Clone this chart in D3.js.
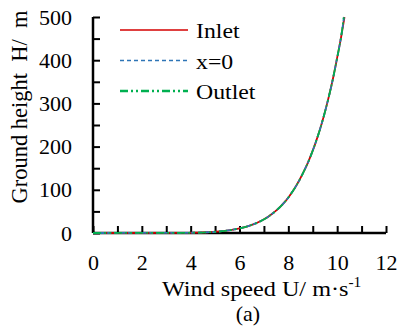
<!DOCTYPE html>
<html><head><meta charset="utf-8">
<script src="https://cdn.jsdelivr.net/npm/d3@7"></script>
<style>body{margin:0;background:#fff}svg{display:block}text{font-family:"Liberation Serif","Times New Roman",serif;fill:#000}</style>
</head><body><svg id="c" width="397" height="331"></svg>
<script>
const heights = [0, 0.5, 1, 2, 5, 10, 20, 30, 50, 75, 100, 150, 200, 250, 300, 350, 400, 450, 500];
const inletU  = [0, 3.92, 4.31, 4.76, 5.40, 5.95, 6.56, 6.95, 7.46, 7.90, 8.22, 8.70, 9.06, 9.35, 9.59, 9.80, 9.98, 10.15, 10.30];
const x0U     = [0, 3.92, 4.31, 4.76, 5.40, 5.95, 6.56, 6.95, 7.46, 7.90, 8.22, 8.70, 9.06, 9.35, 9.59, 9.80, 9.98, 10.15, 10.28];
const outletU = [0, 3.92, 4.31, 4.76, 5.40, 5.95, 6.56, 6.95, 7.46, 7.90, 8.22, 8.70, 9.06, 9.35, 9.59, 9.80, 9.98, 10.15, 10.27];
const seriesNames = ["Inlet", "x=0", "Outlet"];
const xTicks = [0, 2, 4, 6, 8, 10, 12];
const yTicks = [0, 100, 200, 300, 400, 500];

const svg = d3.select("#c");
const x = d3.scaleLinear().domain([0, 12]).range([93, 386]);
const y = d3.scaleLinear().domain([0, 500]).range([233, 17]);
const STRETCH = 1.08;
function stretch(sel) {
  sel.each(function () {
    const w = this.getComputedTextLength();
    d3.select(this).attr("textLength", w * STRETCH).attr("lengthAdjust", "spacingAndGlyphs");
  });
}

const series = [
  {name: seriesNames[0], u: inletU, color: "#d40000", dash: null},
  {name: seriesNames[1], u: x0U, color: "#2e75b6", dash: "4,3"},
  {name: seriesNames[2], u: outletU, color: "#00b050", dash: "8,3,2,3,2,3"}
];

// axes
const xAxis = d3.axisBottom(x).tickValues(d3.range(0, 13, 1)).tickSize(-7).tickPadding(21).tickFormat(d => xTicks.includes(d) ? d : "");
const gx = svg.append("g").attr("transform", "translate(0,233)").call(xAxis);
const yAxis = d3.axisLeft(y).tickValues(d3.range(0, 501, 50)).tickSize(-7).tickPadding(21).tickFormat(d => yTicks.includes(d) ? d : "");
const gy = svg.append("g").attr("transform", "translate(93,0)").call(yAxis);
[gx, gy].forEach(g => {
  g.select(".domain").attr("stroke", "#000").attr("stroke-width", 2.5);
  g.selectAll(".tick line").attr("stroke", "#000").attr("stroke-width", 2);
  g.selectAll(".tick text").attr("font-family", '"Liberation Serif",serif').attr("font-size", 22).attr("fill", "#000");
});
gx.select(".domain").attr("d", "M93,0H386");
gy.select(".domain").attr("d", "M0,233V17");

// curves (drawn above the axes)
const line = d3.line().x(d => x(d[0])).y(d => y(d[1])).curve(d3.curveMonotoneY);
series.forEach(s => {
  svg.append("path").datum(s.u.map((u, i) => [u, heights[i]]))
    .attr("d", line).attr("fill", "none").attr("stroke", s.color)
    .attr("stroke-width", 1.8).attr("stroke-dasharray", s.dash);
});

// legend
const leg = svg.append("g");
series.forEach((s, i) => {
  const ly = 30 + i * 30.5;
  leg.append("line").attr("x1", 120).attr("x2", 188).attr("y1", ly).attr("y2", ly)
    .attr("stroke", s.color).attr("stroke-width", s.name === "Outlet" ? 2.4 : 1.5).attr("stroke-dasharray", s.dash);
  leg.append("text").attr("x", 196).attr("y", ly + 8).style("font-size", "22px").text(s.name).call(stretch);
});

// titles
svg.append("text").attr("transform", "translate(162,296) scale(1.1,1)").style("font-size", "22px")
  .html('Wind speed U/ m·s<tspan dy="-9" style="font-size:14px">-1</tspan>');
svg.append("text").attr("x", 248).attr("y", 321).attr("text-anchor", "middle").style("font-size", "22px").text("(a)");
svg.append("text").attr("transform", "translate(27,107) rotate(-90)").attr("text-anchor", "middle")
  .style("font-size", "22.5px").style("white-space", "pre").text("Ground height  H/  m");
</script></body></html>
